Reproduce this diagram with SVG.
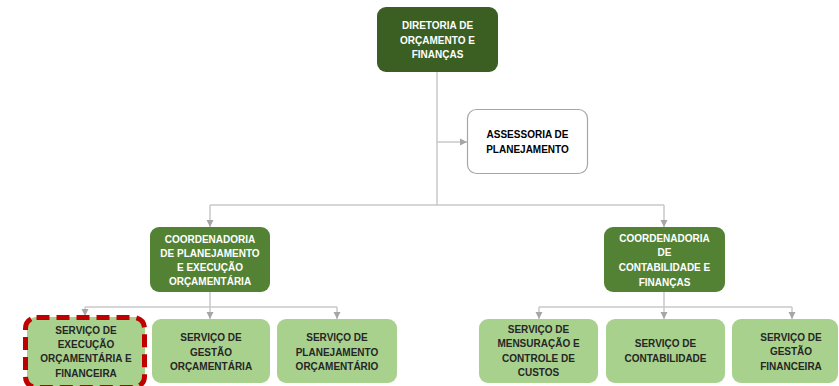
<svg xmlns="http://www.w3.org/2000/svg" width="839" height="386" viewBox="0 0 839 386">
<style>
text{font-family:"Liberation Sans",Arial,sans-serif;font-weight:bold;font-size:10px;text-anchor:middle}
.dk{fill:#3b5e23}
.md{fill:#548235}
.lt{fill:#a9d18e}
.w{fill:#ffffff}
.tl{fill:#262626}
.tb{fill:#000000}
.c{fill:none;stroke:#c8c8c8;stroke-width:1.5}
</style>
<defs>
<marker id="ar" markerUnits="userSpaceOnUse" markerWidth="8" markerHeight="8" refX="7" refY="4" orient="auto">
<path d="M0,0.5 L7,4 L0,7.5 Z" fill="#a6a6a6"/>
</marker>
</defs>
<rect width="839" height="386" fill="#ffffff"/>
<g id="connectors">
<path class="c" d="M437 72 V205"/>
<path class="c" d="M437 142 H467" marker-end="url(#ar)"/>
<path class="c" d="M210 205 H664"/>
<path class="c" d="M210 205 V227" marker-end="url(#ar)"/>
<path class="c" d="M664 205 V227" marker-end="url(#ar)"/>
<path class="c" d="M210 292 V307"/>
<path class="c" d="M85 307 H337"/>
<path class="c" d="M85 307 V316" marker-end="url(#ar)"/>
<path class="c" d="M210 307 V319" marker-end="url(#ar)"/>
<path class="c" d="M337 307 V319" marker-end="url(#ar)"/>
<path class="c" d="M664 292 V307"/>
<path class="c" d="M539 307 H792"/>
<path class="c" d="M539 307 V319" marker-end="url(#ar)"/>
<path class="c" d="M664 307 V319" marker-end="url(#ar)"/>
<path class="c" d="M792 307 V319" marker-end="url(#ar)"/>
</g>
<g id="diretoria">
<rect x="377" y="7" width="121" height="65" rx="9" class="dk"/>
<text class="w" x="437.5" y="29">DIRETORIA DE</text>
<text class="w" x="437.5" y="43.5">ORÇAMENTO E</text>
<text class="w" x="437.5" y="58">FINANÇAS</text>
</g>
<g id="assessoria">
<rect x="467.5" y="109.5" width="120" height="64" rx="9" fill="#ffffff" stroke="#a6a6a6" stroke-width="1.2"/>
<text class="tb" x="527.5" y="138">ASSESSORIA DE</text>
<text class="tb" x="527.5" y="153">PLANEJAMENTO</text>
</g>
<g id="coord-planejamento">
<rect x="150" y="227" width="120" height="65" rx="9" class="md"/>
<text class="w" x="210" y="243">COORDENADORIA</text>
<text class="w" x="210" y="257">DE PLANEJAMENTO</text>
<text class="w" x="210" y="271">E EXECUÇÃO</text>
<text class="w" x="210" y="285">ORÇAMENTÁRIA</text>
</g>
<g id="coord-contabilidade">
<rect x="604" y="227" width="121" height="65" rx="9" class="md"/>
<text class="w" x="664.5" y="242">COORDENADORIA</text>
<text class="w" x="664.5" y="256">DE</text>
<text class="w" x="664.5" y="271">CONTABILIDADE E</text>
<text class="w" x="664.5" y="286">FINANÇAS</text>
</g>
<g id="servico-execucao">
<rect x="27" y="317" width="118" height="70" rx="9" class="lt"/>
<rect x="25.5" y="317.5" width="119" height="70" rx="11" fill="none" stroke="#c00000" stroke-width="5" stroke-dasharray="13 7"/>
<text class="tl" x="86" y="334">SERVIÇO DE</text>
<text class="tl" x="86" y="348">EXECUÇÃO</text>
<text class="tl" x="86" y="362">ORÇAMENTÁRIA E</text>
<text class="tl" x="86" y="376.5">FINANCEIRA</text>
</g>
<g id="servico-gestao-orc">
<rect x="152" y="319" width="118" height="64" rx="9" class="lt"/>
<text class="tl" x="211" y="341">SERVIÇO DE</text>
<text class="tl" x="211" y="355.5">GESTÃO</text>
<text class="tl" x="211" y="370">ORÇAMENTÁRIA</text>
</g>
<g id="servico-planejamento">
<rect x="277" y="319" width="120" height="64" rx="9" class="lt"/>
<text class="tl" x="337" y="341">SERVIÇO DE</text>
<text class="tl" x="337" y="355.5">PLANEJAMENTO</text>
<text class="tl" x="337" y="370">ORÇAMENTÁRIO</text>
</g>
<g id="servico-mensuracao">
<rect x="479" y="319" width="119" height="64" rx="9" class="lt"/>
<text class="tl" x="538.5" y="333">SERVIÇO DE</text>
<text class="tl" x="538.5" y="347">MENSURAÇÃO E</text>
<text class="tl" x="538.5" y="361.5">CONTROLE DE</text>
<text class="tl" x="538.5" y="375.5">CUSTOS</text>
</g>
<g id="servico-contabilidade">
<rect x="606" y="319" width="119" height="64" rx="9" class="lt"/>
<text class="tl" x="665.5" y="347">SERVIÇO DE</text>
<text class="tl" x="665.5" y="361.5">CONTABILIDADE</text>
</g>
<g id="servico-gestao-fin">
<rect x="732" y="319" width="106" height="64" rx="9" class="lt"/>
<text class="tl" x="791" y="341">SERVIÇO DE</text>
<text class="tl" x="791" y="355">GESTÃO</text>
<text class="tl" x="791" y="369.5">FINANCEIRA</text>
</g>
</svg>
